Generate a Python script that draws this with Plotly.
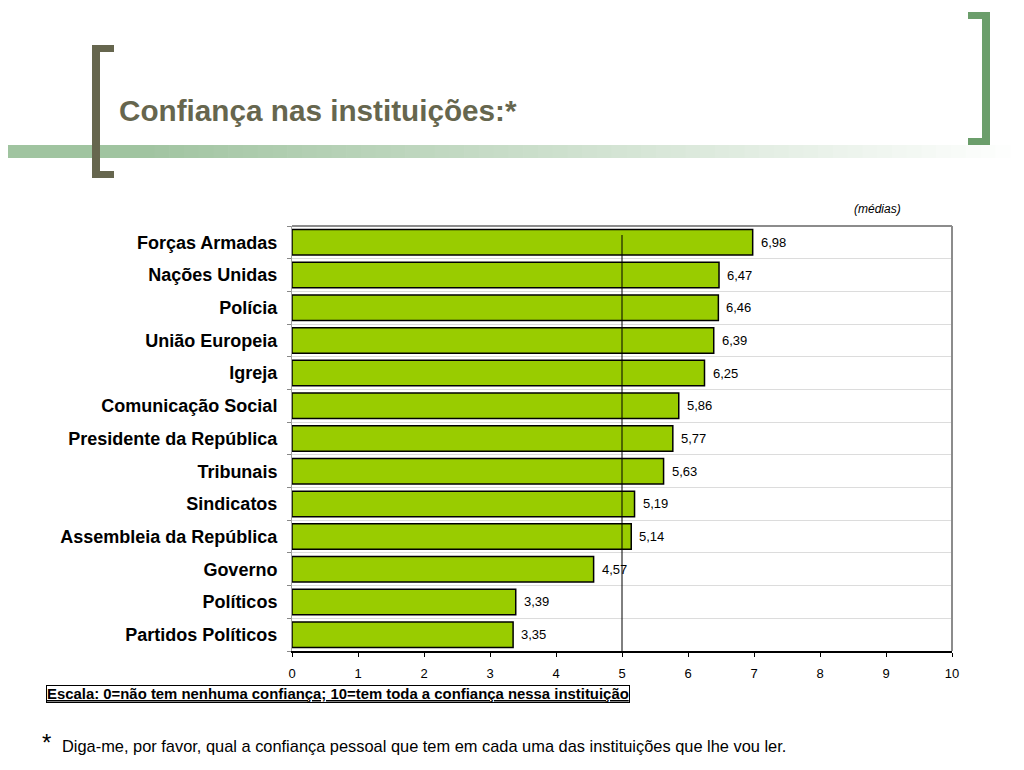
import plotly.graph_objects as go

instituicoes = [
    "Forças Armadas", "Nações Unidas", "Polícia", "União Europeia", "Igreja",
    "Comunicação Social", "Presidente da República", "Tribunais", "Sindicatos",
    "Assembleia da República", "Governo", "Políticos", "Partidos Políticos",
]
medias = [6.98, 6.47, 6.46, 6.39, 6.25, 5.86, 5.77, 5.63, 5.19, 5.14, 4.57, 3.39, 3.35]
x_ticks = [0, 1, 2, 3, 4, 5, 6, 7, 8, 9, 10]
referencia = 5

FONT = "Liberation Sans, Arial, sans-serif"

# page is offset by the 8px body margin; work in page pixels
OFF = 8
W, H = 1024 - OFF, 770 - OFF
L, R, T, B = 292, 952, 226, 651


def px_x(p):
    return (p - L) / (R - L)


def px_y(p):
    return (B - p) / (B - T)


fig = go.Figure()
fig.add_trace(go.Bar(
    x=medias,
    y=instituicoes,
    orientation="h",
    marker=dict(color="#99cc00", line=dict(color="black", width=1.5)),
    hoverinfo="skip",
))

shapes = []

# reference line at 5
shapes.append(dict(type="line", xref="x", yref="paper", x0=referencia, x1=referencia,
                   y0=0, y1=px_y(235), line=dict(color="black", width=1), layer="above"))

# gradient band under title
n = 60
x_solid, x_end = 125, 1010
for i in range(n):
    a = x_solid + (x_end - x_solid) * i / n
    b = x_solid + (x_end - x_solid) * (i + 1) / n
    t = i / n
    c = [int(160 + (255 - 160) * t), int(196 + (255 - 196) * t), int(160 + (255 - 160) * t)]
    shapes.append(dict(type="rect", xref="paper", yref="paper", x0=px_x(a), x1=px_x(b) + 0.001,
                       y0=px_y(158), y1=px_y(145), line=dict(width=0),
                       fillcolor=f"rgb({c[0]},{c[1]},{c[2]})", layer="below"))
shapes.append(dict(type="rect", xref="paper", yref="paper", x0=px_x(-10), x1=px_x(x_solid),
                   y0=px_y(158), y1=px_y(145), line=dict(width=0),
                   fillcolor="rgb(160,196,160)", layer="below"))

# left bracket (dark olive)
olive = "#66664e"
shapes += [
    dict(type="rect", xref="paper", yref="paper", x0=px_x(92), x1=px_x(100),
         y0=px_y(178), y1=px_y(45), line=dict(width=0), fillcolor=olive),
    dict(type="rect", xref="paper", yref="paper", x0=px_x(92), x1=px_x(114),
         y0=px_y(52), y1=px_y(45), line=dict(width=0), fillcolor=olive),
    dict(type="rect", xref="paper", yref="paper", x0=px_x(92), x1=px_x(114),
         y0=px_y(178), y1=px_y(171), line=dict(width=0), fillcolor=olive),
]
# right bracket (green)
green = "#6b9e6b"
shapes += [
    dict(type="rect", xref="paper", yref="paper", x0=px_x(982), x1=px_x(990),
         y0=px_y(145), y1=px_y(12), line=dict(width=0), fillcolor=green),
    dict(type="rect", xref="paper", yref="paper", x0=px_x(968), x1=px_x(990),
         y0=px_y(19), y1=px_y(12), line=dict(width=0), fillcolor=green),
    dict(type="rect", xref="paper", yref="paper", x0=px_x(968), x1=px_x(990),
         y0=px_y(145), y1=px_y(138), line=dict(width=0), fillcolor=green),
]
# gray frame on top and right
shapes += [
    dict(type="line", xref="paper", yref="paper", x0=0, x1=1, y0=1, y1=1,
         line=dict(color="#8c8c8c", width=2)),
    dict(type="line", xref="paper", yref="paper", x0=1, x1=1, y0=0, y1=1,
         line=dict(color="#8c8c8c", width=2)),
]

annotations = [
    dict(text="<b>Confiança nas instituições:*</b>", x=px_x(117), y=px_y(110),
         xref="paper", yref="paper", xanchor="left", yanchor="middle", showarrow=False,
         font=dict(family=FONT, size=29.7, color="#66664e")),
    dict(text="<i>(médias)</i>", x=px_x(877), y=px_y(209),
         xref="paper", yref="paper", xanchor="center", yanchor="middle", showarrow=False,
         font=dict(family=FONT, size=12, color="black")),
    dict(text="<b><u>Escala: 0=não tem nenhuma confiança; 10=tem toda a confiança nessa instituição</u></b>",
         x=px_x(46), y=px_y(694), xref="paper", yref="paper", xanchor="left", yanchor="middle",
         showarrow=False, font=dict(family=FONT, size=14.9, color="black"),
         bordercolor="black", borderwidth=1, borderpad=0),
    dict(text="*", x=px_x(40), y=px_y(742), xref="paper", yref="paper", xanchor="left",
         yanchor="middle", showarrow=False, font=dict(family=FONT, size=24, color="black")),
    dict(text="Diga-me, por favor, qual a confiança pessoal que tem em cada uma das instituições que lhe vou ler.",
         x=px_x(60), y=px_y(746), xref="paper", yref="paper", xanchor="left", yanchor="middle",
         showarrow=False, font=dict(family=FONT, size=16.4, color="black")),
]

# value labels next to each bar
for nome, v in zip(instituicoes, medias):
    annotations.append(dict(
        text=f"{v:.2f}".replace(".", ","), x=v, y=nome, xref="x", yref="y",
        xanchor="left", yanchor="middle", xshift=6, showarrow=False,
        font=dict(family=FONT, size=13, color="black"),
    ))

fig.update_layout(
    width=W, height=H,
    margin=dict(l=L - OFF, r=W - (R - OFF), t=T - OFF, b=H - (B - OFF), pad=0),
    plot_bgcolor="white", paper_bgcolor="white",
    bargap=0.22,
    showlegend=False,
    shapes=shapes,
    annotations=annotations,
    font=dict(family=FONT, color="black"),
)
fig.update_xaxes(
    range=[0, 10], tickvals=x_ticks, showgrid=False, zeroline=False,
    showline=True, linecolor="black", linewidth=1.5, mirror=False,
    ticks="outside", ticklen=4, tickcolor="black",
    tickfont=dict(family=FONT, size=13, color="black"),
    ticklabelstandoff=6,
)
fig.update_yaxes(
    autorange="reversed", tickson="boundaries", showgrid=True, gridcolor="#dcdcdc",
    showline=True, linecolor="#a0a0a0", linewidth=1,
    ticks="outside", ticklen=4, tickcolor="#888888",
    tickfont=dict(family=FONT, size=18, color="black"),
    ticklabelstandoff=10,
    tickvals=instituicoes, ticktext=[f"<b>{s}</b>" for s in instituicoes],
)

fig.write_html("out.html")
